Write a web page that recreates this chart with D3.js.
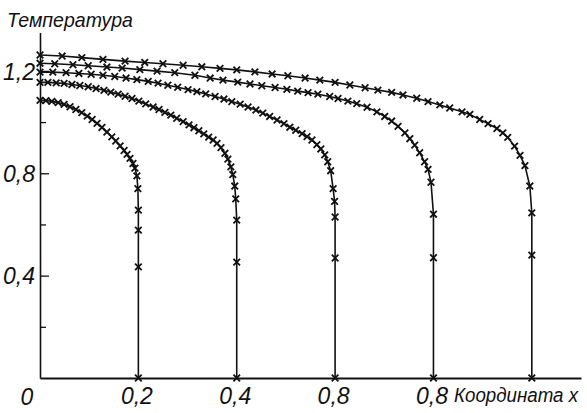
<!DOCTYPE html>
<html>
<head>
<meta charset="utf-8">
<script src="https://cdn.jsdelivr.net/npm/d3@7"></script>
<style>
  html, body { margin: 0; padding: 0; background: #fff; }
  svg { display: block; }
  .lbl { font-family: "Liberation Sans Narrow", "Liberation Sans", sans-serif; font-style: italic; fill: #111; }
</style>
</head>
<body>
<svg id="chart"></svg>
<script>
// marker points of each profile (coordinate x, temperature)
const curve1X = [0, 0.012, 0.024, 0.037, 0.049, 0.061, 0.073, 0.085, 0.096, 0.106, 0.116, 0.126, 0.136, 0.146, 0.154, 0.163, 0.171, 0.177, 0.183, 0.189, 0.193, 0.197, 0.199, 0.2, 0.2, 0.2, 0.2];
const curve1T = [1.085, 1.084, 1.081, 1.076, 1.069, 1.06, 1.049, 1.037, 1.023, 1.01, 0.995, 0.979, 0.961, 0.942, 0.926, 0.907, 0.889, 0.874, 0.858, 0.838, 0.82, 0.79, 0.74, 0.656, 0.578, 0.434, 0];

const curve2X = [0, 0.016, 0.033, 0.049, 0.065, 0.081, 0.098, 0.114, 0.13, 0.144, 0.159, 0.173, 0.187, 0.201, 0.215, 0.23, 0.242, 0.254, 0.266, 0.278, 0.291, 0.303, 0.313, 0.323, 0.333, 0.343, 0.352, 0.36, 0.368, 0.376, 0.382, 0.388, 0.392, 0.396, 0.398, 0.4, 0.4, 0.4];
const curve2T = [1.155, 1.155, 1.153, 1.151, 1.147, 1.143, 1.138, 1.131, 1.124, 1.117, 1.109, 1.101, 1.092, 1.082, 1.071, 1.059, 1.049, 1.038, 1.027, 1.015, 1.002, 0.989, 0.978, 0.966, 0.954, 0.941, 0.93, 0.917, 0.9, 0.878, 0.855, 0.825, 0.795, 0.75, 0.7, 0.617, 0.453, 0];

const curve3X = [0, 0.026, 0.053, 0.079, 0.104, 0.128, 0.152, 0.175, 0.197, 0.22, 0.24, 0.26, 0.28, 0.301, 0.319, 0.337, 0.356, 0.374, 0.39, 0.407, 0.423, 0.439, 0.453, 0.467, 0.482, 0.496, 0.508, 0.52, 0.533, 0.543, 0.553, 0.563, 0.571, 0.579, 0.585, 0.591, 0.596, 0.599, 0.6, 0.6, 0.6];
const curve3T = [1.195, 1.195, 1.193, 1.19, 1.187, 1.183, 1.178, 1.172, 1.166, 1.159, 1.152, 1.144, 1.136, 1.127, 1.119, 1.11, 1.1, 1.09, 1.08, 1.07, 1.059, 1.047, 1.035, 1.022, 1.008, 0.994, 0.98, 0.968, 0.955, 0.943, 0.93, 0.912, 0.895, 0.872, 0.845, 0.81, 0.74, 0.69, 0.629, 0.469, 0];

const curve4X = [0, 0.03, 0.067, 0.098, 0.136, 0.167, 0.203, 0.238, 0.274, 0.315, 0.346, 0.372, 0.402, 0.427, 0.451, 0.478, 0.502, 0.524, 0.545, 0.565, 0.589, 0.606, 0.626, 0.644, 0.665, 0.685, 0.701, 0.715, 0.728, 0.742, 0.752, 0.762, 0.772, 0.782, 0.789, 0.795, 0.8, 0.8, 0.8];
const curve4T = [1.23, 1.228, 1.224, 1.22, 1.215, 1.211, 1.205, 1.199, 1.193, 1.183, 1.172, 1.164, 1.156, 1.149, 1.142, 1.135, 1.128, 1.121, 1.115, 1.109, 1.1, 1.092, 1.082, 1.072, 1.058, 1.04, 1.022, 1.004, 0.983, 0.958, 0.935, 0.91, 0.88, 0.845, 0.815, 0.765, 0.64, 0.47, 0];

const curve5X = [0, 0.045, 0.085, 0.128, 0.173, 0.213, 0.25, 0.291, 0.329, 0.366, 0.4, 0.437, 0.472, 0.504, 0.539, 0.569, 0.6, 0.63, 0.661, 0.687, 0.715, 0.738, 0.766, 0.789, 0.813, 0.833, 0.858, 0.874, 0.894, 0.911, 0.929, 0.941, 0.951, 0.965, 0.976, 0.986, 0.996, 1.0, 1.0, 1.0];
const curve5T = [1.262, 1.258, 1.252, 1.245, 1.238, 1.233, 1.228, 1.222, 1.216, 1.21, 1.204, 1.196, 1.188, 1.181, 1.172, 1.164, 1.155, 1.145, 1.134, 1.125, 1.116, 1.106, 1.093, 1.08, 1.067, 1.055, 1.04, 1.03, 1.01, 0.994, 0.975, 0.958, 0.94, 0.906, 0.87, 0.83, 0.75, 0.645, 0.48, 0];

const xTickValues = [0.2, 0.4, 0.6, 0.8];
const xTickLabels = ["0,2", "0,4", "0,8", "0,8"];   // printed as in the source
const yTickMajor = [0.4, 0.8, 1.2];
const yTickMinor = [0.2, 0.6, 1.0];
const yTitle = "Температура";
const xTitle = "Координата x";

const W = 587, H = 413;
const svg = d3.select("#chart").attr("width", W).attr("height", H);

const x = d3.scaleLinear().domain([0, 1.1]).range([40, 581]);
const y = d3.scaleLinear().domain([0, 1.35]).range([378, 32.5]);

const ink = "#111";

// y axis: ticks point into the plot, labels on the left
const yAxisMajor = d3.axisLeft(y)
    .tickValues(yTickMajor)
    .tickSizeInner(-9)
    .tickSizeOuter(0)
    .tickPadding(6)
    .tickFormat(d => d.toFixed(1).replace(".", ","));
const gy = svg.append("g").attr("transform", `translate(${x(0)},0)`).call(yAxisMajor);
gy.select(".domain").attr("stroke", ink).attr("stroke-width", 1.6);
gy.selectAll(".tick line").attr("stroke", ink).attr("stroke-width", 1.3);
gy.selectAll(".tick text").attr("class", "lbl").attr("font-size", 23).attr("x", -5).attr("dy", "0.36em");

const yAxisMinor = d3.axisLeft(y).tickValues(yTickMinor).tickSizeInner(-6).tickSizeOuter(0).tickFormat("");
const gy2 = svg.append("g").attr("transform", `translate(${x(0)},0)`).call(yAxisMinor);
gy2.select(".domain").remove();
gy2.selectAll(".tick line").attr("stroke", ink).attr("stroke-width", 1.3);

// x axis: bare line with labels under it
const xAxis = d3.axisBottom(x)
    .tickValues(xTickValues)
    .tickSize(0)
    .tickPadding(10)
    .tickFormat((d, i) => xTickLabels[i]);
const gx = svg.append("g").attr("transform", `translate(0,${y(0)})`).call(xAxis);
gx.select(".domain").attr("stroke", ink).attr("stroke-width", 1.8);
gx.selectAll(".tick text").attr("class", "lbl").attr("font-size", 23).attr("dy", "0.68em").attr("dx", -2);

svg.append("text").attr("class", "lbl")
    .attr("x", x(0) - 13).attr("y", y(0) + 27)
    .attr("text-anchor", "middle").attr("font-size", 23).text("0");

svg.append("text").attr("class", "lbl")
    .attr("x", 7).attr("y", 27)
    .attr("font-size", 21)
    .attr("textLength", 126).attr("lengthAdjust", "spacingAndGlyphs")
    .text(yTitle);

svg.append("text").attr("class", "lbl")
    .attr("x", 454).attr("y", 402)
    .attr("font-size", 20)
    .attr("textLength", 124).attr("lengthAdjust", "spacingAndGlyphs")
    .text(xTitle);

// profiles
const series = [
    [curve1X, curve1T],
    [curve2X, curve2T],
    [curve3X, curve3T],
    [curve4X, curve4T],
    [curve5X, curve5T]
].map(([xs, ts]) => xs.map((v, i) => ({x: v, t: ts[i]})));

const line = d3.line().x(d => x(d.x)).y(d => y(d.t));

svg.append("g")
    .selectAll("path")
    .data(series)
    .enter().append("path")
    .attr("d", line)
    .attr("fill", "none")
    .attr("stroke", ink)
    .attr("stroke-width", 1.6);

const s = 3.3;
svg.append("g")
    .selectAll("path")
    .data(series.flat())
    .enter().append("path")
    .attr("d", d => {
        const cx = x(d.x), cy = y(d.t);
        return `M${cx - s},${cy - s}L${cx + s},${cy + s}M${cx - s},${cy + s}L${cx + s},${cy - s}`;
    })
    .attr("stroke", ink)
    .attr("stroke-width", 1.8)
    .attr("fill", "none");
</script>
</body>
</html>
